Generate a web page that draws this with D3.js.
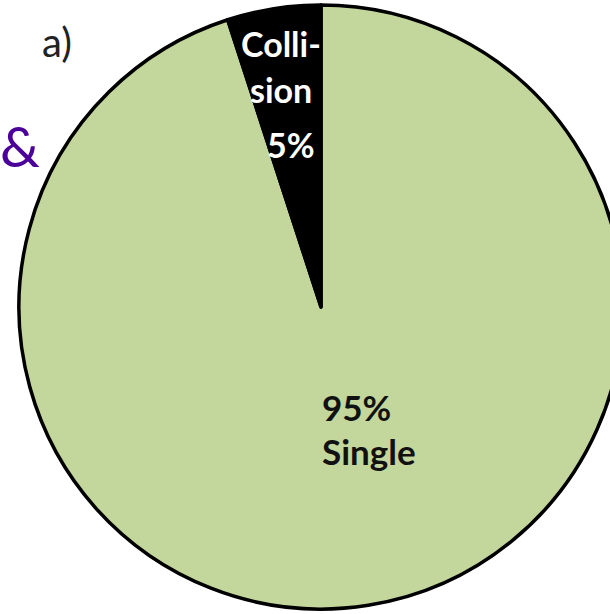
<!DOCTYPE html>
<html>
<head>
<meta charset="utf-8">
<script src="https://cdn.jsdelivr.net/npm/d3@7"></script>
<style>
  body { margin: 0; background: #fff; }
  svg { display: block; }
</style>
</head>
<body>
<svg id="chart" width="610" height="614"></svg>
<script>
// chart data
const categories = ['Single', 'Collision']
const shares = [95, 5]
const colours = ['#C3D69B', '#000000']

const svg = d3.select('#chart')
const cx = 321
const cy = 307
const radius = 302

const slices = categories.map(function (c, i) { return { name: c, value: shares[i] } })

const pie = d3.pie()
  .sort(null)
  .value(function (d) { return d.value })

const arc = d3.arc()
  .innerRadius(0)
  .outerRadius(radius)

const colour = d3.scaleOrdinal()
  .domain(categories)
  .range(colours)

const g = svg.append('g')
  .attr('transform', 'translate(' + cx + ',' + cy + ')')

g.selectAll('path.slice')
  .data(pie(slices))
  .enter()
  .append('path')
    .attr('class', 'slice')
    .attr('d', arc)
    .attr('fill', function (d) { return colour(d.data.name) })
    .attr('stroke', '#000')
    .attr('stroke-width', 3.5)
    .attr('stroke-linejoin', 'round')

// labels, Excel-style
const font = 'Lato, "Open Sans", sans-serif'

const collisionLines = ['Colli-', 'sion', '5%']
const collisionY = [57, 103, 158]
const collisionX = [241, 250, 267]
g.append('g')
  .selectAll('text')
  .data(collisionLines)
  .enter()
  .append('text')
    .attr('x', function (d, i) { return collisionX[i] - cx })
    .attr('y', function (d, i) { return collisionY[i] - cy })
    .attr('fill', '#fff')
    .style('font-family', font)
    .style('font-weight', 'bold')
    .style('font-size', '34px')
    .text(function (d) { return d })

const singleLines = ['95%', 'Single']
const singleY = [421, 465]
g.append('g')
  .selectAll('text')
  .data(singleLines)
  .enter()
  .append('text')
    .attr('x', 322 - cx)
    .attr('y', function (d, i) { return singleY[i] - cy })
    .attr('fill', '#111')
    .style('font-family', font)
    .style('font-weight', 'bold')
    .style('font-size', '35px')
    .text(function (d) { return d })

// panel marker and the symbol at the left edge
svg.append('text')
  .attr('x', 42)
  .attr('y', 57)
  .attr('fill', '#222')
  .style('font-family', font)
  .style('font-size', '40px')
  .text('a)')

svg.append('text')
  .attr('x', 0)
  .attr('y', 167)
  .attr('fill', '#4B0099')
  .style('font-family', font)
  .style('font-size', '56px')
  .text('&')
</script>
</body>
</html>
